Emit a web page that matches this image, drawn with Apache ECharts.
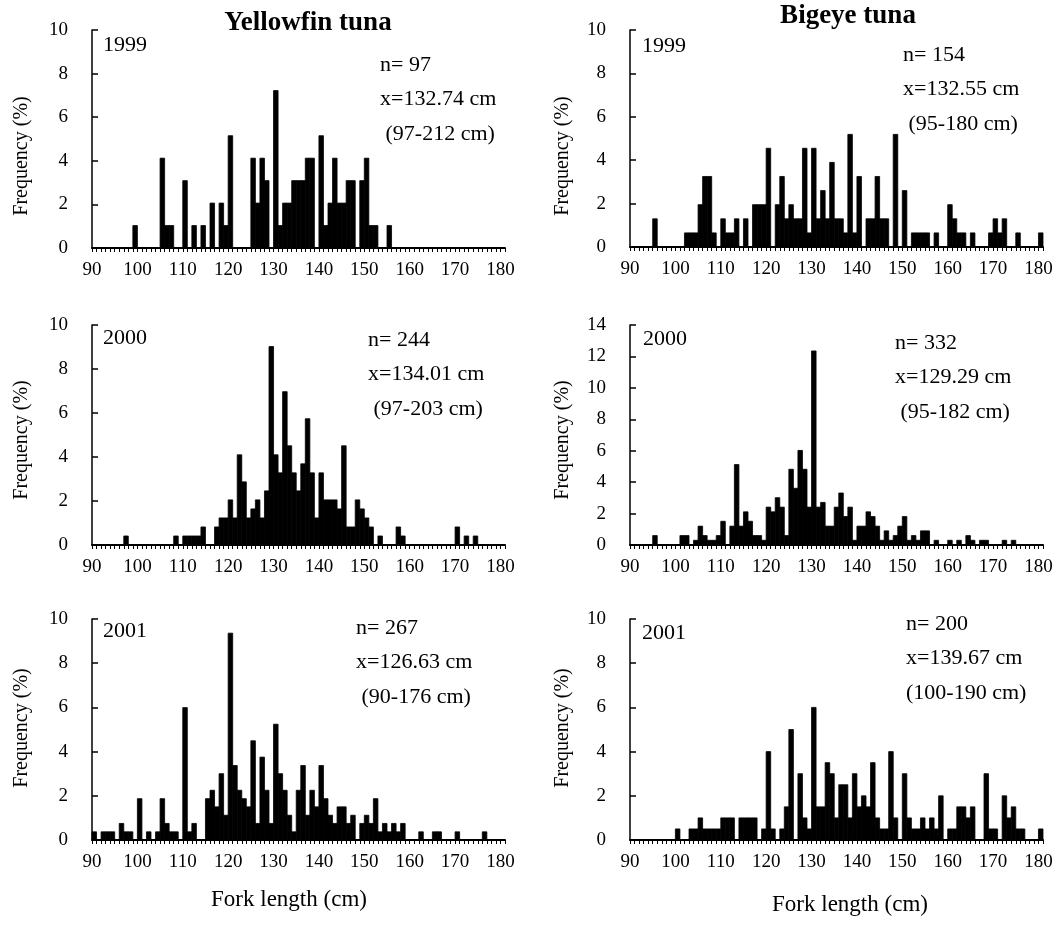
<!DOCTYPE html>
<html>
<head>
<meta charset="utf-8">
<script src="https://cdn.jsdelivr.net/npm/echarts@6/dist/echarts.min.js"></script>
<style>
  html, body { margin: 0; padding: 0; background: #fff; }
  #chart { width: 1063px; height: 943px; }
</style>
</head>
<body>
<div id="chart"></div>
<script>
// fork length bins (cm) and frequency (%) per panel
const yf1999Len = [99,105,106,107,110,112,114,116,118,119,120,125,126,127,128,130,131,132,133,134,135,136,137,138,140,141,142,143,144,145,146,147,149,150,151,152,155];
const yf1999Pct = [1.03,4.12,1.03,1.03,3.09,1.03,1.03,2.06,2.06,1.03,5.15,4.12,2.06,4.12,3.09,7.22,1.03,2.06,2.06,3.09,3.09,3.09,4.12,4.12,5.15,1.03,2.06,4.12,2.06,2.06,3.09,3.09,3.09,4.12,1.03,1.03,1.03];

const yf2000Len = [97,108,110,111,112,113,114,117,118,119,120,121,122,123,124,125,126,127,128,129,130,131,132,133,134,135,136,137,138,139,140,141,142,143,144,145,146,147,148,149,150,151,153,157,158,170,172,174];
const yf2000Pct = [0.41,0.41,0.41,0.41,0.41,0.41,0.82,0.82,1.23,1.23,2.05,1.23,4.10,2.87,1.23,1.64,2.05,1.23,2.46,9.02,4.10,3.28,6.97,4.51,3.28,2.46,3.69,5.74,3.28,1.23,3.28,2.05,2.05,2.05,1.64,4.51,0.82,0.82,2.05,1.64,1.23,0.82,0.41,0.82,0.41,0.82,0.41,0.41];

const yf2001Len = [90,92,93,94,96,97,98,100,102,104,105,106,107,108,110,111,112,115,116,117,118,119,120,121,122,123,124,125,126,127,128,129,130,131,132,133,134,135,136,137,138,139,140,141,142,143,144,145,146,147,149,150,151,152,153,154,155,156,157,158,162,165,166,170,176];
const yf2001Pct = [0.37,0.37,0.37,0.37,0.75,0.37,0.37,1.87,0.37,0.37,1.87,0.75,0.37,0.37,5.99,0.37,0.75,1.87,2.25,1.50,3.00,1.12,9.36,3.37,2.25,1.87,1.50,4.49,0.75,3.75,2.25,0.75,5.24,3.00,2.25,1.12,0.37,2.25,3.37,1.12,2.25,1.50,3.37,1.87,1.12,0.75,1.50,1.50,0.75,1.12,0.75,1.12,0.75,1.87,0.37,0.75,0.37,0.75,0.37,0.75,0.37,0.37,0.37,0.37,0.37];

const be1999Len = [95,102,103,104,105,106,107,108,110,111,112,113,115,117,118,119,120,122,123,124,125,126,127,128,129,130,131,132,133,134,135,136,137,138,139,140,142,143,144,145,146,148,150,152,153,154,155,157,160,161,162,163,165,169,170,171,172,175,180];
const be1999Pct = [1.30,0.65,0.65,0.65,1.95,3.25,3.25,0.65,1.30,0.65,0.65,1.30,1.30,1.95,1.95,1.95,4.55,1.95,3.25,1.30,1.95,1.30,1.30,4.55,0.65,4.55,1.30,2.60,1.30,3.90,1.30,1.30,0.65,5.19,0.65,3.25,1.30,1.30,3.25,1.30,1.30,5.19,2.60,0.65,0.65,0.65,0.65,0.65,1.95,1.30,0.65,0.65,0.65,0.65,1.30,0.65,1.30,0.65,0.65];

const be2000Len = [95,101,102,104,105,106,107,108,109,110,112,113,114,115,116,117,118,119,120,121,122,123,124,125,126,127,128,129,130,131,132,133,134,135,136,137,138,139,140,141,142,143,144,145,146,147,148,149,150,151,152,153,154,155,157,160,162,164,165,167,168,172,174];
const be2000Pct = [0.60,0.60,0.60,0.30,1.20,0.60,0.30,0.30,0.60,1.51,1.20,5.12,1.20,2.11,1.51,0.60,0.60,0.30,2.41,2.11,3.01,2.41,0.60,4.82,3.61,6.02,4.82,2.41,12.35,2.41,2.71,1.20,1.20,2.41,3.31,1.81,2.41,0.30,1.20,1.20,2.11,1.81,1.20,0.30,0.90,0.30,0.60,1.20,1.81,0.30,0.60,0.30,0.90,0.90,0.30,0.30,0.30,0.60,0.30,0.30,0.30,0.30,0.30];

const be2001Len = [100,103,104,105,106,107,108,109,110,111,112,114,115,116,117,119,120,121,123,124,125,127,128,129,130,131,132,133,134,135,136,137,138,139,140,141,142,143,144,145,146,147,148,150,151,152,153,154,155,156,157,158,160,161,162,163,164,165,168,169,170,172,173,174,175,176,180];
const be2001Pct = [0.5,0.5,0.5,1.0,0.5,0.5,0.5,0.5,1.0,1.0,1.0,1.0,1.0,1.0,1.0,0.5,4.0,0.5,0.5,1.5,5.0,3.0,1.0,0.5,6.0,1.5,1.5,3.5,3.0,1.0,2.5,2.5,1.0,3.0,1.5,2.0,1.5,3.5,1.0,0.5,0.5,4.0,1.0,3.0,1.0,0.5,0.5,1.0,0.5,1.0,0.5,2.0,0.5,0.5,1.5,1.5,1.0,1.5,3.0,0.5,0.5,2.0,1.0,1.5,0.5,0.5,0.5];

const years = ["1999", "2000", "2001"];
const sampleText = [
  ["n= 97", "x=132.74 cm", " (97-212 cm)"],
  ["n= 244", "x=134.01 cm", " (97-203 cm)"],
  ["n= 267", "x=126.63 cm", " (90-176 cm)"],
  ["n= 154", "x=132.55 cm", " (95-180 cm)"],
  ["n= 332", "x=129.29 cm", " (95-182 cm)"],
  ["n= 200", "x=139.67 cm", "(100-190 cm)"],
];

const FONT = "Liberation Serif";

const panels = [
  { len: yf1999Len, pct: yf1999Pct, yMax: 10, grid: { left: 92, top: 30, width: 413, height: 218 }, txt: [380, 66], yr: [103, 46], nameAt: [22, 156] },
  { len: yf2000Len, pct: yf2000Pct, yMax: 10, grid: { left: 92, top: 325, width: 413, height: 220 }, txt: [368, 341], yr: [103, 339], nameAt: [22, 440] },
  { len: yf2001Len, pct: yf2001Pct, yMax: 10, grid: { left: 92, top: 619, width: 413, height: 221 }, txt: [356, 629], yr: [103, 632], nameAt: [22, 728] },
  { len: be1999Len, pct: be1999Pct, yMax: 10, grid: { left: 630, top: 30, width: 413, height: 217 }, txt: [903, 56], yr: [642, 47], nameAt: [563, 156] },
  { len: be2000Len, pct: be2000Pct, yMax: 14, grid: { left: 630, top: 325, width: 413, height: 220 }, txt: [895, 344], yr: [643, 340], nameAt: [563, 440] },
  { len: be2001Len, pct: be2001Pct, yMax: 10, grid: { left: 630, top: 619, width: 413, height: 221 }, txt: [906, 625], yr: [642, 634], nameAt: [563, 728] },
];

const chart = echarts.init(document.getElementById("chart"));

function renderBar(params, api) {
  const x = api.value(0);
  const v = api.value(1);
  const p0 = api.coord([x, 0]);
  const p1 = api.coord([x + 1, v]);
  return {
    type: "rect",
    shape: { x: p0[0], y: p1[1], width: p1[0] - p0[0], height: p0[1] - p1[1] },
    style: { fill: "#000", stroke: "#000", lineWidth: 0.8 },
  };
}

const graphics = [];
panels.forEach((p, i) => {
  graphics.push({
    type: "text", left: p.yr[0], top: p.yr[1] - 12,
    style: { text: years[i % 3], font: "22px '" + FONT + "'", fill: "#000" },
  });
  sampleText[i].forEach((t, j) => {
    graphics.push({
      type: "text", left: p.txt[0], top: p.txt[1] - 12 + j * 34.5,
      style: { text: t, font: "22px '" + FONT + "'", fill: "#000" },
    });
  });
  // rotated y axis title
  graphics.push({
    type: "text", x: p.nameAt[0], y: p.nameAt[1], rotation: Math.PI / 2,
    style: { text: "Frequency (%)", font: "20px '" + FONT + "'", fill: "#000", align: "center", verticalAlign: "middle" },
  });
});

graphics.push(
  { type: "text", x: 308, y: 23, style: { text: "Yellowfin tuna", font: "bold 27px '" + FONT + "'", fill: "#000", align: "center", verticalAlign: "middle" } },
  { type: "text", x: 848, y: 16, style: { text: "Bigeye tuna", font: "bold 27px '" + FONT + "'", fill: "#000", align: "center", verticalAlign: "middle" } },
  { type: "text", x: 289, y: 900, style: { text: "Fork length (cm)", font: "23px '" + FONT + "'", fill: "#000", align: "center", verticalAlign: "middle" } },
  { type: "text", x: 850, y: 905, style: { text: "Fork length (cm)", font: "23px '" + FONT + "'", fill: "#000", align: "center", verticalAlign: "middle" } }
);

const options = {
  animation: false,
  backgroundColor: "#fff",
  textStyle: { fontFamily: FONT, color: "#000" },
  grid: panels.map((p) => p.grid),
  xAxis: panels.map((p, i) => ({
    type: "value",
    gridIndex: i,
    min: 90,
    max: 181,
    interval: 1,
    axisLine: { show: true, lineStyle: { color: "#000", width: 2 } },
    axisTick: { show: true, length: 4, lineStyle: { color: "#000", width: 1 } },
    axisLabel: {
      fontSize: 19,
      fontFamily: FONT,
      color: "#000",
      margin: 13,
      formatter: (v) => (v % 10 === 0 ? String(v) : ""),
    },
    splitLine: { show: false },
  })),
  yAxis: panels.map((p, i) => ({
    type: "value",
    gridIndex: i,
    min: 0,
    max: p.yMax,
    interval: 2,
    axisLine: { show: true, lineStyle: { color: "#000", width: 1.5 } },
    axisTick: { show: true, inside: true, length: 6, lineStyle: { color: "#000", width: 1.5 } },
    axisLabel: { fontSize: 19, fontFamily: FONT, color: "#000", margin: 24 },
    splitLine: { show: false },
  })),
  series: panels.map((p, i) => ({
    type: "custom",
    xAxisIndex: i,
    yAxisIndex: i,
    renderItem: renderBar,
    encode: { x: 0, y: 1 },
    data: p.len.map((x, k) => [x, p.pct[k]]),
  })),
  graphic: graphics,
};

chart.setOption(options);
</script>
</body>
</html>
